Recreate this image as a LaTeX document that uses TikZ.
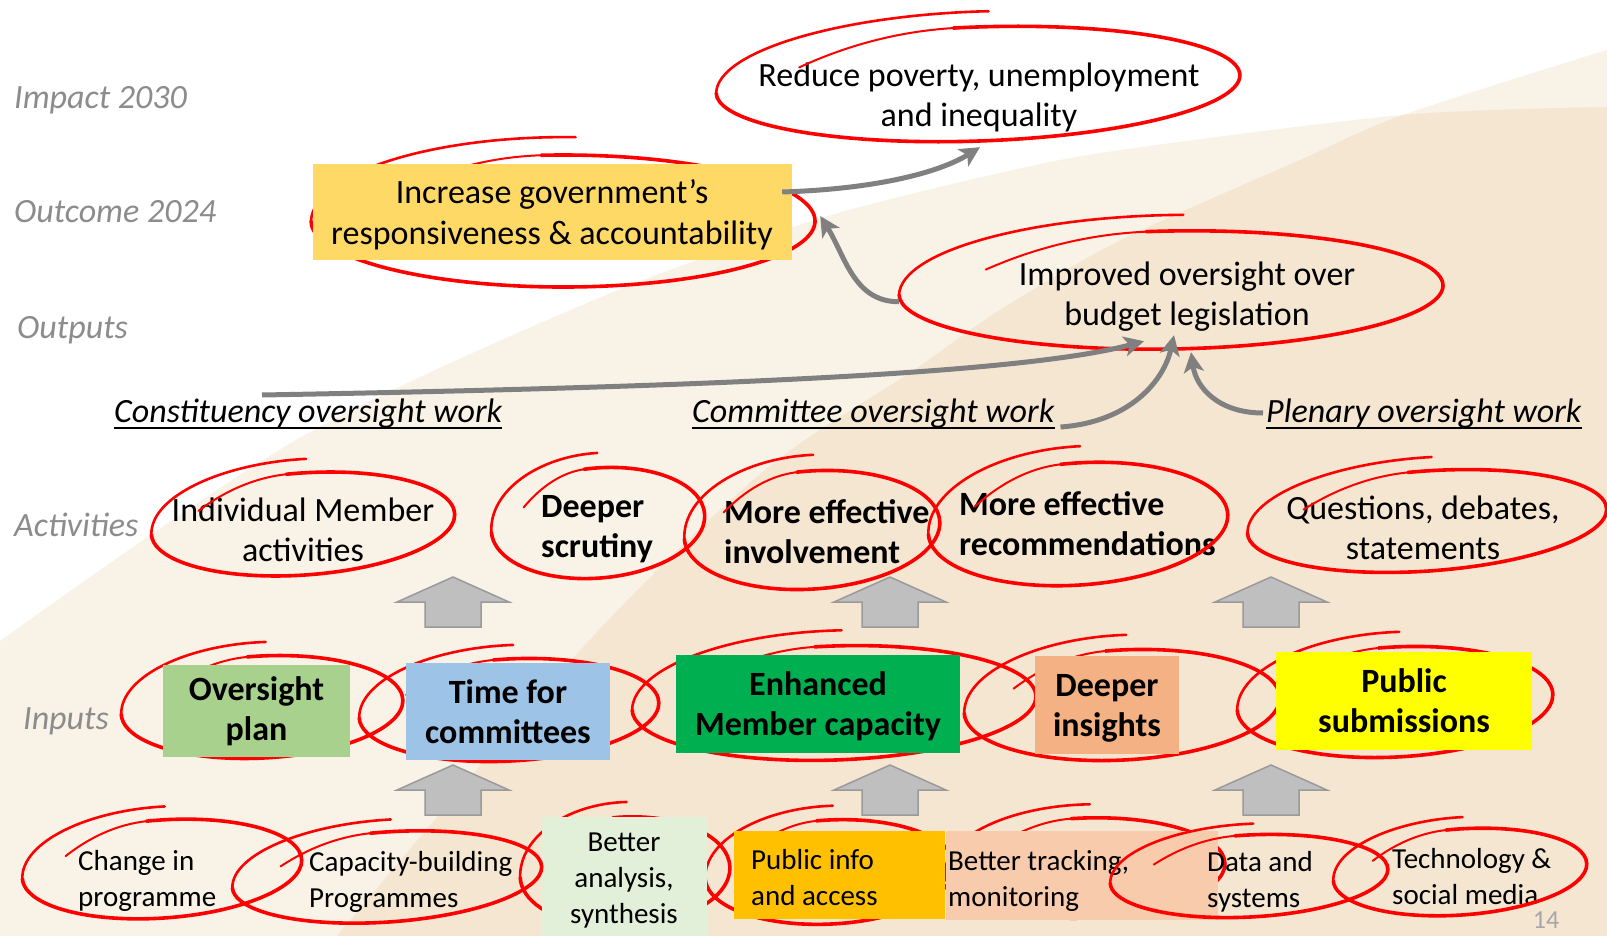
\documentclass[tikz,border=0pt]{standalone}
\usepackage{fontspec}
\setmainfont{Carlito}
\usetikzlibrary{shapes.geometric,arrows.meta,calc}
\definecolor{bglight}{HTML}{F9F2E7}
\definecolor{bgdark}{HTML}{F5E6D2}
\definecolor{loopred}{HTML}{FF0000}
\definecolor{lvlgray}{HTML}{8C8C8C}
\definecolor{arrgray}{HTML}{808080}
\definecolor{blkfill}{HTML}{BFBFBF}
\definecolor{blkdraw}{HTML}{9A9A9A}
\definecolor{cyellow}{HTML}{FFD966}
\definecolor{cgreenl}{HTML}{A9D18E}
\definecolor{cblue}{HTML}{9DC3E6}
\definecolor{cgreen}{HTML}{00B050}
\definecolor{csalmon}{HTML}{F4B183}
\definecolor{cyeltwo}{HTML}{FFFF00}
\definecolor{cpale}{HTML}{E2F0D9}
\definecolor{corange}{HTML}{FFC000}
\definecolor{cpeach}{HTML}{F8CBAD}
\definecolor{pagegray}{HTML}{A6A6A6}
% red hand-drawn loop: name, cx, cy, rx, ry, tilt
\newcommand\rloop[6]{%
  \begin{scope}[rotate around={#6:(#2,#3)}]
  \node[loopnode, transform shape, minimum width={2*#4pt}, minimum height={2*#5pt}] (#1) at (#2,#3) {};
  \draw[tailthin] ({#2-0.68*#4},{#3-0.4*#5}) .. controls ({#2-0.5*#4},{#3-0.75*#5}) and ({#2-0.3*#4},{#3-0.97*#5}) .. ({#2-0.087*#4},{#3-0.996*#5});
  \draw[loopline] ({#2-0.087*#4},{#3-0.996*#5}) arc[start angle=95, end angle=-180, x radius=#4pt, y radius=#5pt];
  \draw[tailline] ({#2-#4},{#3}) .. controls ({#2-0.99*#4},{#3-0.75*#5}) and ({#2-0.5*#4},{#3-1.3*#5}) .. ({#2+0.05*#4},{#3-1.27*#5});
  \end{scope}%
}
% upward block arrow: tip x, tip y
\newcommand\blockup[2]{%
  \draw[blockarrow] (#1,#2) -- ({#1+56},{#2+25}) -- ({#1+28},{#2+25}) -- ({#1+28},{#2+50}) -- ({#1-28},{#2+50}) -- ({#1-28},{#2+25}) -- ({#1-56},{#2+25}) -- cycle;%
}
\begin{document}
\begin{tikzpicture}[x=1pt,y=-1pt,
  loopnode/.style={ellipse, draw=none, inner sep=0pt},
  loopline/.style={draw=loopred, line width=3.6pt, line cap=round},
  tailline/.style={draw=loopred, line width=2.6pt, line cap=round},
  tailthin/.style={draw=loopred, line width=2pt, line cap=round},
  box/.style={rectangle, inner sep=0pt, align=center, text=black},
  lvl/.style={font=\fontsize{34}{41}\selectfont\itshape, text=lvlgray, anchor=west, inner sep=0pt},
  treg/.style={font=\fontsize{34}{40}\selectfont, inner sep=0pt, align=center},
  tbold/.style={font=\fontsize{34}{40}\selectfont\bfseries, inner sep=0pt},
  tsmall/.style={font=\fontsize{29}{36}\selectfont, inner sep=0pt, align=left, anchor=west},
  wlabel/.style={font=\fontsize{34}{41}\selectfont\itshape, inner sep=0pt, anchor=base west},
  uline/.style={line width=1.8pt, draw=black},
  garrow/.style={draw=arrgray, line width=5pt, -{Stealth[length=20pt,width=20pt,inset=5pt]}},
  blockarrow/.style={fill=blkfill, draw=blkdraw, line width=1.5pt, line join=miter}
]
\useasboundingbox (0,0) rectangle (1607,936);
% ---------- background ----------
\fill[white] (0,0) rectangle (1607,936);
\fill[bglight] plot[smooth] coordinates {(0,641) (296,440) (594,300) (815,220) (1000,173) (1121,150) (1403,115) (1607,107)} -- (1607,936) -- (0,936) -- cycle;
\fill[bglight] plot[smooth] coordinates {(337,936) (586,644) (765,470) (914,370) (1000,310) (1121,240) (1300,160) (1403,115) (1607,50)} -- (1607,936) -- cycle;
\begin{scope}
  \clip plot[smooth] coordinates {(0,641) (296,440) (594,300) (815,220) (1000,173) (1121,150) (1403,115) (1607,107)} -- (1607,936) -- (0,936) -- cycle;
  \fill[bgdark] plot[smooth] coordinates {(337,936) (586,644) (765,470) (914,370) (1000,310) (1121,240) (1300,160) (1403,115) (1607,50)} -- (1607,936) -- cycle;
\end{scope}
% ---------- level labels ----------
\node[lvl] (lvimpact) at (14,100) {Impact 2030};
\node[lvl] (lvoutcome) at (14,212) {Outcome 2024};
\node[lvl] (lvoutputs) at (17,330) {Outputs};
\node[lvl] (lvactivities) at (14,525) {Activities};
\node[lvl] (lvinputs) at (23,721) {Inputs};
% ---------- loops hidden behind boxes ----------
\rloop{outloop}{563}{221}{252}{66}{0}
\rloop{ovloop}{262}{707}{141}{51}{3}
\rloop{timeloop}{509}{710}{150}{51}{3}
\rloop{enhloop}{834}{703}{202}{57}{2}
\rloop{dinsloop}{1122}{705}{158}{55}{3}
\rloop{publoop}{1395}{702}{158}{55}{3}
\rloop{banloop}{625}{872}{105}{55}{3}
\rloop{pinfoloop}{830}{872}{125}{52}{3}
\rloop{btrloop}{1085}{868}{140}{50}{2}
% ---------- boxes ----------
\node[box, fill=cyellow, minimum width=479pt, minimum height=96pt] (outbox) at (552.5,212) {};
\node[box, fill=cgreenl, minimum width=187pt, minimum height=92pt, tbold, align=center] (ovbox) at (256.5,711) {Oversight\\plan};
\node[box, fill=cblue, minimum width=204pt, minimum height=97pt, tbold, align=center] (timebox) at (508,711.5) {Time for\\committees};
\node[box, fill=cgreen, minimum width=284pt, minimum height=98pt] (enhbox) at (818,704) {};
\node[box, fill=csalmon, minimum width=144pt, minimum height=98pt] (dinsbox) at (1107,705) {};
\node[box, fill=cyeltwo, minimum width=256pt, minimum height=98pt, tbold, align=center] (pubbox) at (1404,701) {Public\\submissions};
\node[box, fill=cpale, minimum width=165pt, minimum height=122pt] (banbox) at (624.5,878) {};
\node[box, fill=corange, minimum width=211pt, minimum height=88pt] (pinfobox) at (839.5,875) {};
\node[box, fill=cpeach, minimum width=272pt, minimum height=89pt] (btrbox) at (1082,875.5) {};
% ---------- texts ----------
\node[treg, font=\fontsize{34}{41}\selectfont] (outtext) at (552,215) {Increase government’s\\responsiveness \& accountability};
\node[tbold, align=center] (enhtext) at (818,706) {Enhanced\\Member capacity};
\node[tbold, align=center] (dinstext) at (1107,708) {Deeper\\insights};
\node[treg] (reduce) at (979,97) {Reduce poverty, unemployment\\and inequality};
\node[treg] (improved) at (1187,297) {Improved oversight over\\budget legislation};
\node[treg] (individual) at (303,530) {Individual Member\\activities};
\node[tbold, align=left, anchor=west] (scrutiny) at (541,529) {Deeper\\scrutiny};
\node[tbold, align=left, anchor=west] (involve) at (724,532) {More effective\\involvement};
\node[tbold, align=left, anchor=west] (recomm) at (959,524) {More effective\\recommendations};
\node[treg] (questions) at (1423,528) {Questions, debates,\\statements};
\node[tsmall] (change) at (78,881) {Change in\\programme};
\node[tsmall] (capacity) at (309,882) {Capacity-building\\Programmes};
\node[tsmall, align=center, anchor=center] (analysis) at (624,881) {Better\\analysis,\\synthesis};
\node[tsmall] (pinfo) at (751,878) {Public info\\and access};
\node[tsmall] (btrack) at (948,881) {Better tracking,\\monitoring};
\node[tsmall] (datasys) at (1207,882) {Data and\\systems};
\node[tsmall] (techsoc) at (1392,877) {Technology \&\\social media};
% ---------- loops over text ----------
\rloop{reduceloop}{978}{84}{262}{57}{2}
\rloop{improvedloop}{1171}{290}{272}{59}{1}
\rloop{indloop}{303}{524}{152}{51}{4}
\rloop{scrloop}{598}{523}{107}{55}{5}
\rloop{invloop}{812}{530}{128}{59}{4}
\rloop{recloop}{1078}{524}{150}{61}{4}
\rloop{queloop}{1427}{521}{180}{50}{4}
\rloop{chgloop}{162}{869}{140}{49}{4}
\rloop{caploop}{387}{877}{155}{45}{4}
\rloop{dataloop}{1249}{876}{139}{41}{3}
\rloop{techloop}{1460}{872}{127}{43}{4}
% ---------- work labels ----------
\node[wlabel] (conslab) at (114,422) {Constituency oversight work};
\node[wlabel] (commlab) at (692,422) {Committee oversight work};
\node[wlabel] (plenlab) at (1266,422) {Plenary oversight work};
\draw[uline] ([yshift=-6pt]conslab.base west) -- ([yshift=-6pt]conslab.base east);
\draw[uline] ([yshift=-6pt]commlab.base west) -- ([yshift=-6pt]commlab.base east);
\draw[uline] ([yshift=-6pt]plenlab.base west) -- ([yshift=-6pt]plenlab.base east);
% ---------- grey connectors ----------
\coordinate (a1s) at ([xshift=-10pt,yshift=20pt]outbox.east);
\coordinate (a1e) at ([yshift=-6pt]reduceloop.south);
\draw[garrow] (a1s) .. controls +(95,-3) and +(-40,25) .. (a1e);
\coordinate (a2s) at ([yshift=-7pt]improvedloop.west);
\coordinate (a2e) at ([xshift=5pt,yshift=5pt]outloop.east);
\draw[garrow] (a2s) .. controls +(-45,0) and +(25,40) .. (a2e);
\coordinate (a3s) at (262,395);
\coordinate (a3e) at ([xshift=-28pt,yshift=8pt]improvedloop.south);
\draw[garrow] (a3s) .. controls +(450,-8) and +(-120,32) .. (a3e);
\coordinate (a4s) at ([xshift=6pt,yshift=-5pt]commlab.base east);
\coordinate (a4e) at ([xshift=2pt,yshift=14pt]improvedloop.south);
\draw[garrow] (a4s) .. controls +(70,-5) and +(-10,45) .. (a4e);
\coordinate (a5s) at ([xshift=-3pt,yshift=9pt]plenlab.base west);
\coordinate (a5e) at ([xshift=19pt,yshift=-3pt]improvedloop.south);
\draw[garrow] (a5s) .. controls +(-45,0) and +(5,35) .. (a5e);
% ---------- block arrows ----------
\blockup{453}{577}
\blockup{890}{577}
\blockup{1271}{577}
\blockup{453}{765}
\blockup{890}{765}
\blockup{1271}{765}
% ---------- page number ----------
\node[font=\fontsize{26}{30}\selectfont, text=pagegray, inner sep=0pt] (pagenum) at (1546,920) {14};
\end{tikzpicture}
\end{document}
